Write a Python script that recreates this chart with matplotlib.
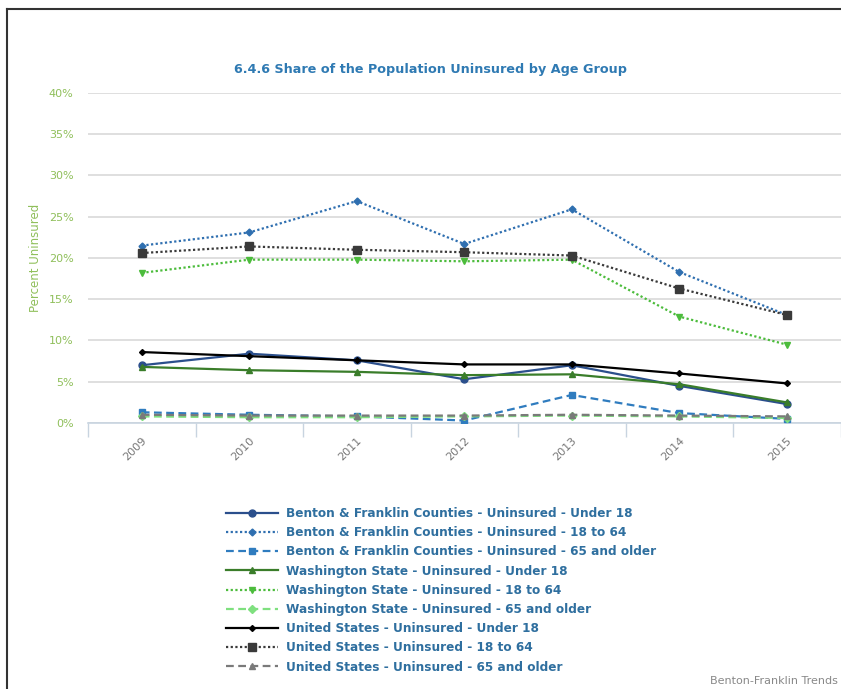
import numpy as np
import matplotlib
matplotlib.use("Agg")
import matplotlib.pyplot as plt
from matplotlib.lines import Line2D
from matplotlib.ticker import FixedLocator

years = ["2009", "2010", "2011", "2012", "2013", "2014", "2015"]

# percent uninsured
bf_under18 = [7.0, 8.4, 7.6, 5.3, 7.0, 4.5, 2.3]
bf_18to64 = [21.5, 23.1, 26.9, 21.7, 25.9, 18.3, 13.1]
bf_65up = [1.3, 1.0, 0.8, 0.3, 3.4, 1.2, 0.5]
wa_under18 = [6.8, 6.4, 6.2, 5.8, 5.9, 4.7, 2.5]
wa_18to64 = [18.2, 19.8, 19.8, 19.6, 19.8, 12.9, 9.5]
wa_65up = [0.8, 0.7, 0.7, 0.8, 0.9, 0.8, 0.6]
us_under18 = [8.6, 8.1, 7.6, 7.1, 7.1, 6.0, 4.8]
us_18to64 = [20.6, 21.4, 21.0, 20.7, 20.3, 16.3, 13.1]
us_65up = [1.0, 0.9, 0.9, 0.9, 1.0, 0.9, 0.8]

labels = [
    "Benton & Franklin Counties - Uninsured - Under 18",
    "Benton & Franklin Counties - Uninsured - 18 to 64",
    "Benton & Franklin Counties - Uninsured - 65 and older",
    "Washington State - Uninsured - Under 18",
    "Washington State - Uninsured - 18 to 64",
    "Washington State - Uninsured - 65 and older",
    "United States - Uninsured - Under 18",
    "United States - Uninsured - 18 to 64",
    "United States - Uninsured - 65 and older",
]

dot = (0, (1, 1.1))
dash = (0, (3.5, 2))
# (values, color, linestyle, marker, markersize)
series = [
    (bf_under18, "#2b4f8c", "-", "o", 5),
    (bf_18to64, "#2f6fb0", dot, "D", 3.5),
    (bf_65up, "#2f7cbf", dash, "s", 5),
    (wa_under18, "#3a7d2a", "-", "^", 5),
    (wa_18to64, "#4cbc3c", dot, "v", 5),
    (wa_65up, "#7fe07f", dash, "D", 4),
    (us_under18, "#000000", "-", "D", 3),
    (us_18to64, "#3a3a3a", dot, "s", 6),
    (us_65up, "#7a7a7a", dash, "^", 4),
]

fig = plt.figure(figsize=(8.41, 6.89), dpi=100)
W, H = 841, 689
ax = fig.add_axes([88 / W, 1 - 423 / H, (840.5 - 88) / W, (423 - 93) / H])

x = np.arange(len(years))
handles = []
for (vals, c, ls, mk, ms), lab in zip(series, labels):
    h, = ax.plot(x, vals, color=c, linestyle=ls, linewidth=1.6, marker=mk,
                 markersize=ms, markeredgecolor=c, markerfacecolor=c, label=lab,
                 zorder=3)
    handles.append(h)

ax.set_xlim(-0.5, len(years) - 0.5)
ax.set_ylim(0, 40)
ax.set_yticks(np.arange(0, 41, 5))
ax.set_yticklabels([f"{v}%" for v in range(0, 41, 5)], color="#8fbf5a", fontsize=8)
ax.yaxis.grid(True, color="#d9d9d9", linewidth=1.2)
ax.set_axisbelow(True)
ax.tick_params(axis="y", length=0, pad=10.5)

ax.set_xticks(x)
ax.set_xticklabels(years, rotation=45, color="#777777", fontsize=8,
                   ha="right", va="top", rotation_mode="anchor")
ax.tick_params(axis="x", which="major", length=0, pad=9)
ax.xaxis.set_minor_locator(FixedLocator(np.arange(-0.5, len(years), 1.0)))
ax.tick_params(axis="x", which="minor", length=10, color="#c8d4e0", width=1)

for s in ["top", "right", "left"]:
    ax.spines[s].set_visible(False)
ax.spines["bottom"].set_color("#c8d4e0")
ax.spines["bottom"].set_linewidth(1.2)

ax.set_ylabel("Percent Uninsured", color="#8fbf5a", fontsize=8.5, labelpad=5)

fig.text(430 / W, 1 - 69 / H, "6.4.6 Share of the Population Uninsured by Age Group",
         ha="center", va="center", fontsize=9.2, fontweight="bold", color="#2f7ab3")

leg = fig.legend(handles=handles, loc="upper left",
                 bbox_to_anchor=(226 / W, 1 - 507 / H), frameon=False,
                 fontsize=8.75, handlelength=4.3, handletextpad=0.66,
                 labelspacing=0.51, borderpad=0, borderaxespad=0)
for t in leg.get_texts():
    t.set_color("#2f6f9f")
    t.set_fontweight("bold")

fig.text(838 / W, 1 - 681 / H, "Benton-Franklin Trends", ha="right", va="center",
         fontsize=8, color="#888888")

# outer frame (left and top edges)
fig.add_artist(Line2D([7 / W, 7 / W], [0, 1 - 9 / H], color="#333333", linewidth=1.5))
fig.add_artist(Line2D([7 / W, 1], [1 - 9 / H, 1 - 9 / H], color="#333333", linewidth=1.5))

fig.savefig("out.png", dpi=100)
